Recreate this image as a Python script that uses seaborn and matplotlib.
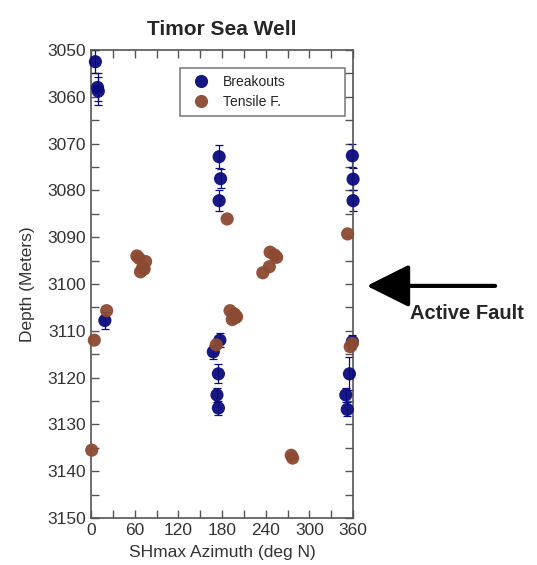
import matplotlib
matplotlib.use("Agg")
import matplotlib.pyplot as plt
from matplotlib.ticker import MultipleLocator
import seaborn as sns
import pandas as pd

# breakouts: azimuth (deg N), depth (m), depth error (m)
bo_az = [6, 9, 10, 19, 176, 178, 176, 177, 168, 175, 173, 175,
         359, 360, 360, 359, 355, 350, 352]
bo_depth = [3052.5, 3058.0, 3058.8, 3107.8, 3072.8, 3077.5, 3082.2, 3112.0,
            3114.5, 3119.2, 3123.7, 3126.5, 3072.6, 3077.6, 3082.2, 3112.3,
            3119.2, 3123.7, 3126.8]
bo_err = [2.5, 3.0, 3.0, 1.8, 2.5, 2.0, 2.2, 1.5, 1.5, 2.0, 1.5, 1.5,
          2.5, 2.3, 2.3, 1.5, 3.5, 1.5, 1.5]

# tensile fractures
tf_az = [21.5, 4.5, 1, 63, 66, 68, 71, 75, 73, 187, 246, 252, 255, 245, 236,
         191, 197, 200, 194, 198, 172, 275, 277, 352.5, 356, 359]
tf_depth = [3105.7, 3112.0, 3135.5, 3094.0, 3094.5, 3097.4, 3096.5, 3095.2,
            3096.8, 3086.1, 3093.2, 3093.8, 3094.3, 3096.3, 3097.6, 3105.7,
            3106.4, 3107.0, 3107.6, 3107.2, 3113.0, 3136.6, 3137.2, 3089.3,
            3113.4, 3112.7]

navy = "#0b0b7e"
brown = "#8c4a32"

df = pd.DataFrame({
    "az": bo_az + tf_az,
    "depth": bo_depth + tf_depth,
    "kind": ["Breakouts"] * len(bo_az) + ["Tensile F."] * len(tf_az),
})

sns.set_style("ticks")
plt.rcParams["font.family"] = ["Liberation Sans", "DejaVu Sans"]

fig = plt.figure(figsize=(5.37, 5.65), dpi=100)
ax = fig.add_axes([0.1695, 0.0832, 0.488, 0.8283])

ax.errorbar(bo_az, bo_depth, yerr=bo_err, fmt="none", ecolor=navy,
            elinewidth=0.9, capsize=3, capthick=0.9, zorder=2, clip_on=False)
sns.scatterplot(data=df, x="az", y="depth", hue="kind",
                palette={"Breakouts": navy, "Tensile F.": brown},
                s=90, edgecolor="none", alpha=0.95, ax=ax, zorder=3,
                clip_on=False)

ax.set_xlim(0, 360)
ax.set_ylim(3150, 3050)
ax.xaxis.set_major_locator(MultipleLocator(60))
ax.xaxis.set_minor_locator(MultipleLocator(30))
ax.yaxis.set_major_locator(MultipleLocator(10))
ax.yaxis.set_minor_locator(MultipleLocator(5))
ax.tick_params(which="both", direction="in", top=True, right=True,
               length=6, width=1, color="#555555", labelsize=12.5,
               labelcolor="#333333")
for sp in ax.spines.values():
    sp.set_color("#555555")
    sp.set_linewidth(1.2)

ax.set_xlabel("SHmax Azimuth (deg N)", fontsize=12.5, color="#333333",
              labelpad=5)
ax.set_ylabel("Depth (Meters)", fontsize=12.5, color="#333333", labelpad=9)
ax.set_title("Timor Sea Well", fontsize=15, fontweight="bold", pad=11)

leg = ax.legend(loc="upper left", bbox_to_anchor=(0.34, 0.857, 0.63, 0.105),
                mode="expand", borderaxespad=0, fancybox=False,
                frameon=True, fontsize=10, handletextpad=0.6,
                borderpad=0.5, labelspacing=0.45, markerscale=1.0)
leg.get_frame().set_edgecolor("#555555")
leg.get_frame().set_linewidth(1.1)

ax.annotate("", xy=(0.683, 0.494), xytext=(0.922, 0.494),
            xycoords="figure fraction", textcoords="figure fraction",
            arrowprops=dict(arrowstyle="-|>,head_length=1.2,head_width=0.6",
                            lw=3, color="black", mutation_scale=22,
                            shrinkA=0, shrinkB=0))
fig.text(0.870, 0.446, "Active Fault", fontsize=14.5, fontweight="bold",
         ha="center", va="center")

fig.savefig("out.png", dpi=100)
